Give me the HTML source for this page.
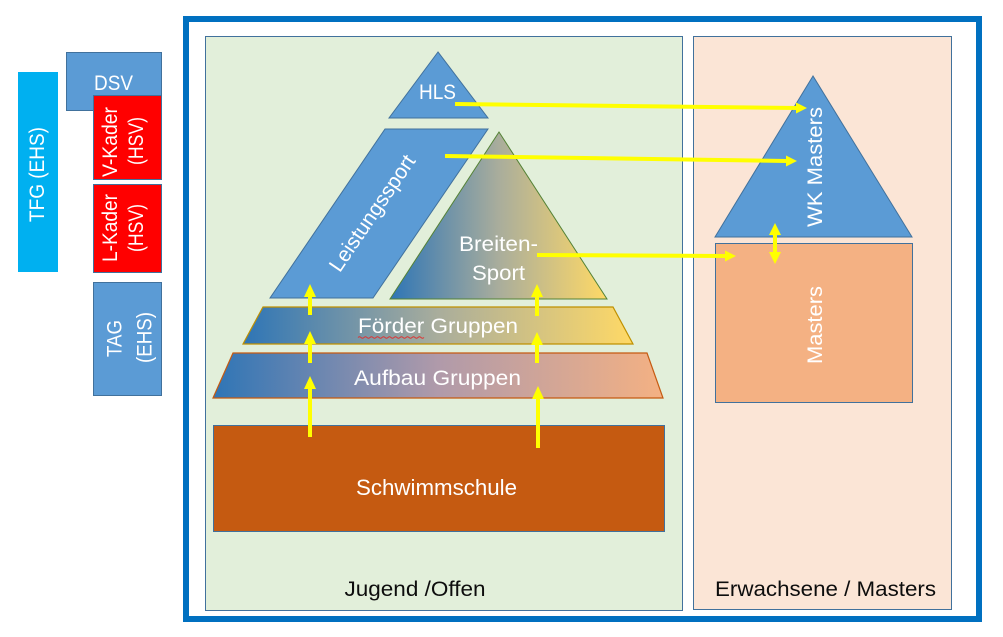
<!DOCTYPE html>
<html><head><meta charset="utf-8"><style>
html,body{margin:0;padding:0;background:#fff;}
svg{display:block;}
text{font-family:"Liberation Sans",sans-serif;}
</style></head><body>
<svg width="1003" height="637" viewBox="0 0 1003 637" xmlns="http://www.w3.org/2000/svg">
<defs>
<linearGradient id="gBG" x1="0" y1="0" x2="1" y2="0">
<stop offset="0" stop-color="#2E75B6"/><stop offset="0.5" stop-color="#A9AD9C"/><stop offset="1" stop-color="#FFD966"/>
</linearGradient>
<linearGradient id="gAB" x1="0" y1="0" x2="1" y2="0">
<stop offset="0" stop-color="#2E75B6"/><stop offset="0.5" stop-color="#B09AAA"/><stop offset="1" stop-color="#F4B183"/>
</linearGradient>
</defs>
<rect width="1003" height="637" fill="#fff"/>

<!-- left sidebar -->
<rect x="18" y="72" width="40" height="200" fill="#00B0F0"/>
<rect x="66.5" y="52.5" width="95" height="58" fill="#5B9BD5" stroke="#41719C" stroke-width="1"/>
<rect x="93.5" y="95.5" width="68" height="84" fill="#FF0000" stroke="#41719C" stroke-width="1"/>
<rect x="93.5" y="184.5" width="68" height="88" fill="#FF0000" stroke="#41719C" stroke-width="1"/>
<rect x="93.5" y="282.5" width="68" height="113" fill="#5B9BD5" stroke="#41719C" stroke-width="1"/>
<g fill="#fff" font-size="21" text-anchor="middle">
<text x="113.5" y="90" textLength="39" lengthAdjust="spacingAndGlyphs">DSV</text>
<text transform="translate(44,174.5) rotate(-90)" textLength="95" lengthAdjust="spacingAndGlyphs">TFG (EHS)</text>
<text transform="translate(117,142) rotate(-90)" textLength="70" lengthAdjust="spacingAndGlyphs">V-Kader</text>
<text transform="translate(143,141) rotate(-90)" textLength="48" lengthAdjust="spacingAndGlyphs">(HSV)</text>
<text transform="translate(117,228) rotate(-90)" textLength="68" lengthAdjust="spacingAndGlyphs">L-Kader</text>
<text transform="translate(143,228) rotate(-90)" textLength="48" lengthAdjust="spacingAndGlyphs">(HSV)</text>
<text transform="translate(121.5,338.5) rotate(-90)" textLength="37" lengthAdjust="spacingAndGlyphs">TAG</text>
<text transform="translate(151.5,337.5) rotate(-90)" textLength="51" lengthAdjust="spacingAndGlyphs">(EHS)</text>
</g>

<!-- outer frame -->
<rect x="186" y="19" width="793" height="600" fill="#fff" stroke="#0070C0" stroke-width="6"/>

<!-- panels -->
<rect x="205.5" y="36.5" width="477" height="574" fill="#E2EFDA" stroke="#41719C" stroke-width="1"/>
<rect x="693.5" y="36.5" width="258" height="573" fill="#FBE5D6" stroke="#41719C" stroke-width="1"/>

<!-- pyramid -->
<polygon points="438,52 389,118 488,118" fill="#5B9BD5" stroke="#41719C" stroke-width="1"/>
<polygon points="385,129 488,129 373,298 270,298" fill="#5B9BD5" stroke="#41719C" stroke-width="1"/>
<polygon points="499,132 390,299 607,299" fill="url(#gBG)" stroke="#548235" stroke-width="1"/>
<polygon points="263,307 613,307 633,344 243,344" fill="url(#gBG)" stroke="#BF9000" stroke-width="1.2"/>
<polygon points="233,353 647,353 663,398 213,398" fill="url(#gAB)" stroke="#C55A11" stroke-width="1.2"/>
<rect x="213.5" y="425.5" width="451" height="106" fill="#C55A11" stroke="#41719C" stroke-width="1"/>

<!-- masters -->
<polygon points="813,76 715,237 912,237" fill="#5B9BD5" stroke="#41719C" stroke-width="1"/>
<rect x="715.5" y="243.5" width="197" height="159" fill="#F4B183" stroke="#41719C" stroke-width="1"/>

<!-- texts -->
<g fill="#fff" font-size="21" text-anchor="middle">
<text x="437.5" y="99" textLength="37" lengthAdjust="spacingAndGlyphs">HLS</text>
<text transform="translate(378,217) rotate(-55.8)" textLength="136" lengthAdjust="spacingAndGlyphs">Leistungssport</text>
<text x="498.5" y="251" textLength="79" lengthAdjust="spacingAndGlyphs">Breiten-</text>
<text x="498.5" y="280" textLength="53" lengthAdjust="spacingAndGlyphs">Sport</text>
<text x="438" y="333" textLength="160" lengthAdjust="spacingAndGlyphs">Förder Gruppen</text>
<text x="437.5" y="385" textLength="167" lengthAdjust="spacingAndGlyphs">Aufbau Gruppen</text>
<text x="436.5" y="495" font-size="22" textLength="161" lengthAdjust="spacingAndGlyphs">Schwimmschule</text>
<text transform="translate(822,167) rotate(-90)" textLength="120" lengthAdjust="spacingAndGlyphs">WK Masters</text>
<text transform="translate(822,325) rotate(-90)" textLength="78" lengthAdjust="spacingAndGlyphs">Masters</text>
</g>
<path d="M358,337.5 q1.5,-1.5 3,0 t3,0 t3,0 t3,0 t3,0 t3,0 t3,0 t3,0 t3,0 t3,0 t3,0 t3,0 t3,0 t3,0 t3,0 t3,0 t3,0 t3,0 t3,0 t3,0 t3,0 t3,0" fill="none" stroke="#E03030" stroke-width="0.9"/>
<g fill="#0D0D0D" font-size="21" text-anchor="middle">
<text x="415" y="596" textLength="141" lengthAdjust="spacingAndGlyphs">Jugend /Offen</text>
<text x="825.5" y="596" textLength="221" lengthAdjust="spacingAndGlyphs">Erwachsene / Masters</text>
</g>

<!-- yellow arrows -->
<g fill="#FFFF00" stroke="none">
<!-- left column -->
<rect x="308" y="388" width="4" height="49"/><polygon points="310,376 304,389 316,389"/>
<rect x="308" y="343" width="4" height="20"/><polygon points="310,331 304,344 316,344"/>
<rect x="308" y="296" width="4" height="19"/><polygon points="310,284 304,297 316,297"/>
<!-- right column -->
<rect x="536" y="398" width="4" height="50"/><polygon points="538,386 532,399 544,399"/>
<rect x="535" y="344" width="4" height="19"/><polygon points="537,332 531,345 543,345"/>
<rect x="535" y="296" width="4" height="20"/><polygon points="537,284 531,297 543,297"/>
<!-- double arrow -->
<rect x="773" y="234" width="4" height="20"/>
<polygon points="775,223 769,235 781,235"/>
<polygon points="775,264 769,252 781,252"/>
</g>
<g stroke="#FFFF00" stroke-width="4" fill="none">
<line x1="455" y1="104" x2="797" y2="108"/>
<line x1="445" y1="156" x2="787" y2="161"/>
<line x1="537" y1="255" x2="726" y2="256"/>
</g>
<g fill="#FFFF00">
<polygon points="807,108 796,102.5 796,113.5"/>
<polygon points="797,161 786,155.5 786,166.5"/>
<polygon points="736,256 725,250.5 725,261.5"/>
</g>
</svg>
</body></html>
